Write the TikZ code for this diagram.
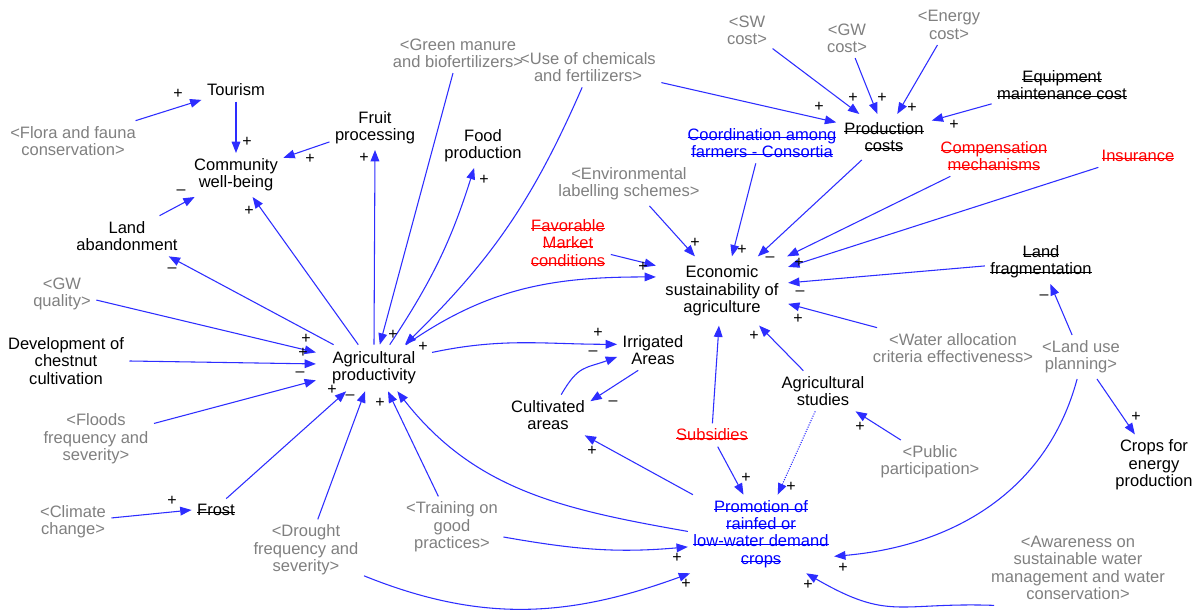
\documentclass[tikz,border=0pt]{standalone}
\usepackage{fontspec}
\setmainfont{Liberation Sans}
\usetikzlibrary{arrows.meta}
\definecolor{linkblue}{RGB}{45,45,255}
\definecolor{vargray}{RGB}{128,128,128}
\definecolor{varblue}{RGB}{0,0,255}
\definecolor{varred}{RGB}{255,0,0}
% text with a thin line drawn through it
\newcommand\struck[1]{\sbox0{#1}\rlap{\raisebox{0.32ex}{\rule{\wd0}{0.45pt}}}\usebox0}
\begin{document}
\begin{tikzpicture}[x=0.75pt,y=0.75pt,
  font=\fontsize{12.4}{13}\selectfont,
  var/.style={align=center,inner sep=4pt,text=black},
  shd/.style={var,text=vargray},
  pol/.style={var,text=varred},
  blu/.style={var,text=varblue},
  lnk/.style={draw=linkblue,line width=0.8pt,-{Triangle[length=8.5pt,width=6.5pt]}},
  sgn/.style={inner sep=0pt,font=\fontsize{12}{12}\selectfont}]
\useasboundingbox[fill=white] (0,0) rectangle (1197,-616);

% variables
\node[var] (tour) at (236,-90) {Tourism};
\node[var] (comm) at (236,-175) {Community\\well-being};
\node[var] (fruit) at (375,-128) {Fruit\\processing};
\node[var] (food) at (483,-146) {Food\\production};
\node[var] (aband) at (127,-236) {Land\\abandonment};
\node[var] (chest) at (66,-361) {Development of\\chestnut\\cultivation};
\node[var,inner xsep=12pt,inner ysep=5pt] (agri) at (374,-368) {Agricultural\\productivity};
\node[var] (frost) at (216,-510) {\struck{Frost}};
\node[var] (irr) at (653,-350) {Irrigated\\Areas};
\node[var] (cult) at (548,-415) {Cultivated\\areas};
\node[var,inner sep=7pt] (econ) at (722,-291) {Economic\\sustainability of\\agriculture};
\node[var] (stud) at (823,-391) {Agricultural\\studies};
\node[var,inner sep=6pt] (prod) at (884,-137) {\struck{Production}\\\struck{costs}};
\node[var] (equip) at (1062,-85) {\struck{Equipment}\\\struck{maintenance cost}};
\node[var] (frag) at (1041,-262) {\struck{Land}\\\struck{fragmentation}};
\node[var] (energy) at (1154,-465) {Crops for\\energy\\production};

% shadow variables
\node[shd] (flora) at (73,-141) {<Flora and fauna\\conservation>};
\node[shd] (gwq) at (62,-294) {<GW\\quality>};
\node[shd] (flood) at (96,-439) {<Floods\\frequency and\\severity>};
\node[shd] (clim) at (73,-522) {<Climate\\change>};
\node[shd] (drought) at (306,-550) {<Drought\\frequency and\\severity>};
\node[shd] (train) at (452,-527) {<Training on\\good\\practices>};
\node[shd] (green) at (458,-53) {<Green manure\\and biofertilizers>};
\node[shd] (chem) at (588,-67) {<Use of chemicals\\and fertilizers>};
\node[shd] (sw) at (747,-30) {<SW\\cost>};
\node[shd] (gwc) at (847,-38) {<GW\\cost>};
\node[shd] (enc) at (949,-25) {<Energy\\cost>};
\node[shd] (env) at (629,-184) {<Environmental\\labelling schemes>};
\node[shd] (water) at (953,-348) {<Water allocation\\criteria effectiveness>};
\node[shd] (landuse) at (1081,-357) {<Land use\\planning>};
\node[shd] (public) at (930,-462) {<Public\\participation>};
\node[shd] (aware) at (1078,-568) {<Awareness on\\sustainable water\\management and water\\conservation>};

% policy variables
\node[pol] (market) at (568,-243) {\struck{Favorable}\\\struck{Market}\\\struck{conditions}};
\node[pol] (comp) at (994,-156) {\struck{Compensation}\\\struck{mechanisms}};
\node[pol] (insur) at (1138,-156) {\struck{Insurance}};
\node[pol] (subs) at (712,-435) {\struck{Subsidies}};
\node[blu] (coord) at (762,-143) {\struck{Coordination among}\\\struck{farmers - Consortia}};
\node[blu] (promo) at (761,-534) {\struck{Promotion of}\\\struck{rainfed or}\\\struck{low-water demand}\\\struck{crops}};

% links
\draw[lnk] (flora.18) -- (tour.196);
\draw[lnk] (tour.270) -- (comm.90);
\draw[lnk] (fruit.197) -- (comm.20);
\draw[lnk] (aband.32) -- (comm.208);
\draw[lnk] (agri.124) -- (comm.307);
\draw[lnk] (agri.150) -- (aband.334);
\draw[lnk] (agri.90) -- (fruit.270);
\draw[lnk] (agri.56) to[bend right=8] (food.248);
\draw[lnk] (green.256) -- (agri.76);
\draw[lnk] (chem.254) to[bend left=11] (agri.37);
\draw[lnk] (chem.348) -- (prod.163);
\draw[lnk] (sw.324) -- (prod.137);
\draw[lnk] (gwc.292) -- (prod.106);
\draw[lnk] (enc.240) -- (prod.60);
\draw[lnk] (equip.195) -- (prod.19);
\draw[lnk] (prod.226) -- (econ.44);
\draw[lnk] (comp.205) -- (econ.28);
\draw[lnk] (insur.196) -- (econ.20);
\draw[lnk] (frag.184) -- (econ.7);
\draw[lnk] (water.165) -- (econ.349);
\draw[lnk] (stud.134) -- (econ.317);
\draw[lnk] (subs.88) -- (econ.265);
\draw[lnk] (market.345) -- (econ.159);
\draw[lnk] (env.313) -- (econ.128);
\draw[lnk] (coord.253) -- (econ.74);
\draw[lnk] (agri.36) to[out=35,in=180] (econ.168);
\draw[lnk] (agri.15) to[out=12,in=180] (irr.171);
\draw[lnk] (cult.57) to[out=60,in=200,looseness=1.3] (irr.191);
\draw[lnk] (irr.234) -- (cult.18);
\draw[lnk] (promo.150) -- (cult.331);
\draw[lnk] (promo.178) to[out=170,in=308] (agri.315);
\draw[lnk] (train.114) -- (agri.301);
\draw[lnk] (train.349) to[out=-10,in=185] (promo.190);
\draw[lnk] (drought.336) to[out=-22,in=200] (promo.209);
\draw[lnk] (drought.69) -- (agri.249);
\draw[lnk] (frost.48) -- (agri.220);
\draw[lnk] (clim.6) -- (frost.180);
\draw[lnk] (gwq.350) -- (agri.165);
\draw[lnk] (chest.0) -- (agri.176);
\draw[lnk] (flood.15) -- (agri.192);
\draw[lnk] (subs.296) -- (promo.114);
\draw[lnk,densely dotted] (stud.249) -- (promo.67);
\draw[lnk] (public.143) -- (stud.328);
\draw[lnk] (landuse.112) -- (frag.293);
\draw[lnk] (landuse.306) -- (energy.122);
\draw[lnk] (landuse.260) to[out=255,in=5] (promo.343);
\draw[lnk] (aware.204) to[out=178,in=-30,looseness=1.3] (promo.319);

% link polarities
\node[sgn] (p1) at (178,-94) {+};
\node[sgn] (p2) at (247,-142) {+};
\node[sgn] (p3) at (310,-159) {+};
\node[sgn] (p4) at (181,-192) {–};
\node[sgn] (p5) at (249,-211) {+};
\node[sgn] (p6) at (172,-270) {–};
\node[sgn] (p7) at (364,-158) {+};
\node[sgn] (p8) at (484,-180) {+};
\node[sgn] (p9) at (393,-335) {+};
\node[sgn] (p10) at (423,-347) {+};
\node[sgn] (p11) at (306,-339) {+};
\node[sgn] (p12) at (303,-353) {+};
\node[sgn] (p13) at (300,-374) {–};
\node[sgn] (p14) at (332,-390) {+};
\node[sgn] (p15) at (350,-397) {–};
\node[sgn] (p16) at (380,-403) {+};
\node[sgn] (p17) at (172,-501) {+};
\node[sgn] (p18) at (819,-107) {+};
\node[sgn] (p19) at (853,-98) {+};
\node[sgn] (p20) at (882,-98) {+};
\node[sgn] (p21) at (912,-108) {+};
\node[sgn] (p22) at (954,-125) {+};
\node[sgn] (p23) at (695,-243) {+};
\node[sgn] (p24) at (742,-250) {+};
\node[sgn] (p25) at (770,-259) {–};
\node[sgn] (p26) at (799,-263) {+};
\node[sgn] (p27) at (800,-293) {–};
\node[sgn] (p28) at (798,-319) {+};
\node[sgn] (p29) at (754,-336) {+};
\node[sgn] (p30) at (643,-267) {+};
\node[sgn] (p31) at (598,-333) {+};
\node[sgn] (p32) at (593,-353) {–};
\node[sgn] (p33) at (613,-403) {–};
\node[sgn] (p34) at (592,-451) {+};
\node[sgn] (p35) at (746,-478) {+};
\node[sgn] (p36) at (791,-487) {+};
\node[sgn] (p37) at (860,-427) {+};
\node[sgn] (p38) at (1044,-297) {–};
\node[sgn] (p39) at (1136,-417) {+};
\node[sgn] (p40) at (843,-568) {+};
\node[sgn] (p41) at (808,-585) {+};
\node[sgn] (p42) at (677,-558) {+};
\node[sgn] (p43) at (686,-584) {+};
\end{tikzpicture}
\end{document}
